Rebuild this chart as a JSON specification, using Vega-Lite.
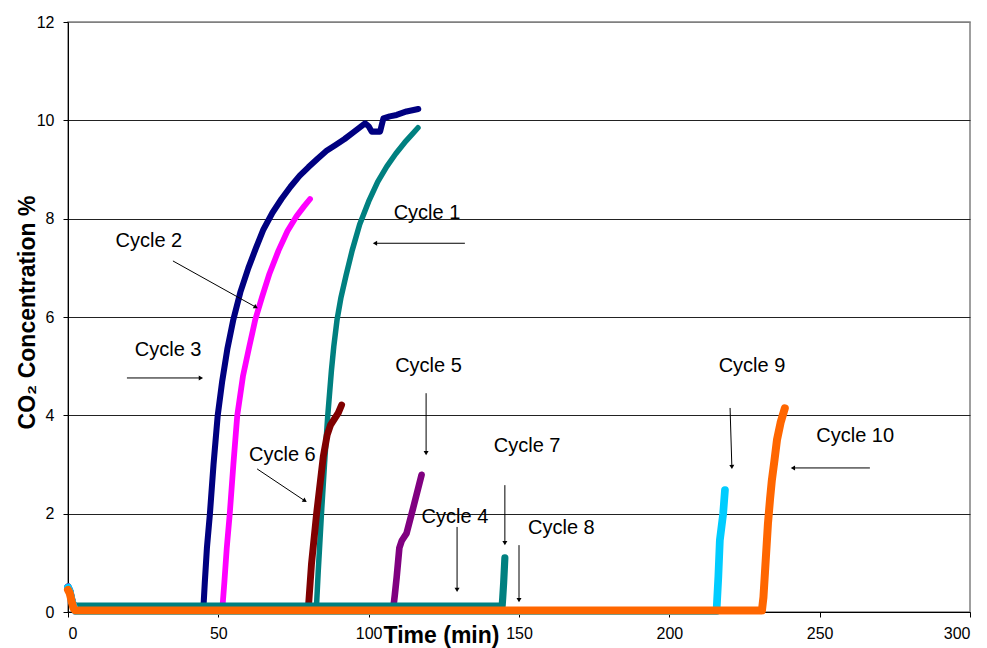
{
"$schema": "https://vega.github.io/schema/vega-lite/v6.json",
"width": 902, "height": 590,
"autosize": {"type": "none"},
"padding": {"left": 68, "top": 22, "right": 17, "bottom": 36},
"background": "white",
"config": {"font": "Liberation Sans", "view": {"stroke": "#808080", "strokeWidth": 1.5}},
"datasets": {
"series": [
{"cycle":"Cycle 1","t":0,"co2":0.5},{"cycle":"Cycle 1","t":0.6,"co2":0.42},{"cycle":"Cycle 1","t":1.2,"co2":0.25},{"cycle":"Cycle 1","t":1.8,"co2":0.12},{"cycle":"Cycle 1","t":2.5,"co2":0.06},{"cycle":"Cycle 1","t":40,"co2":0.06},{"cycle":"Cycle 1","t":82.6,"co2":0.06},{"cycle":"Cycle 1","t":83.2,"co2":0.8},{"cycle":"Cycle 1","t":84.3,"co2":2.0},{"cycle":"Cycle 1","t":85.3,"co2":3.0},{"cycle":"Cycle 1","t":86.4,"co2":4.0},{"cycle":"Cycle 1","t":87.6,"co2":4.9},{"cycle":"Cycle 1","t":88.4,"co2":5.4},{"cycle":"Cycle 1","t":89.5,"co2":5.95},{"cycle":"Cycle 1","t":90.8,"co2":6.4},{"cycle":"Cycle 1","t":92.5,"co2":6.85},{"cycle":"Cycle 1","t":94.5,"co2":7.35},{"cycle":"Cycle 1","t":97,"co2":7.88},{"cycle":"Cycle 1","t":100,"co2":8.35},{"cycle":"Cycle 1","t":103,"co2":8.75},{"cycle":"Cycle 1","t":106,"co2":9.06},{"cycle":"Cycle 1","t":109,"co2":9.32},{"cycle":"Cycle 1","t":112,"co2":9.55},{"cycle":"Cycle 1","t":114.5,"co2":9.72},{"cycle":"Cycle 1","t":116.4,"co2":9.85},
{"cycle":"Cycle 2","t":0,"co2":0.5},{"cycle":"Cycle 2","t":0.6,"co2":0.42},{"cycle":"Cycle 2","t":1.2,"co2":0.25},{"cycle":"Cycle 2","t":1.8,"co2":0.12},{"cycle":"Cycle 2","t":2.5,"co2":0.04},{"cycle":"Cycle 2","t":51.3,"co2":0.04},{"cycle":"Cycle 2","t":52,"co2":0.6},{"cycle":"Cycle 2","t":52.8,"co2":1.3},{"cycle":"Cycle 2","t":53.8,"co2":2.0},{"cycle":"Cycle 2","t":55,"co2":3.0},{"cycle":"Cycle 2","t":56.3,"co2":4.0},{"cycle":"Cycle 2","t":58.2,"co2":4.8},{"cycle":"Cycle 2","t":60.3,"co2":5.4},{"cycle":"Cycle 2","t":62.3,"co2":5.95},{"cycle":"Cycle 2","t":64.5,"co2":6.4},{"cycle":"Cycle 2","t":67,"co2":6.88},{"cycle":"Cycle 2","t":70,"co2":7.35},{"cycle":"Cycle 2","t":73,"co2":7.75},{"cycle":"Cycle 2","t":76,"co2":8.05},{"cycle":"Cycle 2","t":78.5,"co2":8.25},{"cycle":"Cycle 2","t":80.5,"co2":8.4},
{"cycle":"Cycle 3","t":0,"co2":0.5},{"cycle":"Cycle 3","t":0.6,"co2":0.42},{"cycle":"Cycle 3","t":1.2,"co2":0.25},{"cycle":"Cycle 3","t":1.8,"co2":0.12},{"cycle":"Cycle 3","t":2.5,"co2":0.04},{"cycle":"Cycle 3","t":45,"co2":0.04},{"cycle":"Cycle 3","t":45.5,"co2":0.6},{"cycle":"Cycle 3","t":46.2,"co2":1.3},{"cycle":"Cycle 3","t":47.2,"co2":2.0},{"cycle":"Cycle 3","t":48.4,"co2":3.0},{"cycle":"Cycle 3","t":49.8,"co2":4.0},{"cycle":"Cycle 3","t":51.3,"co2":4.7},{"cycle":"Cycle 3","t":53,"co2":5.35},{"cycle":"Cycle 3","t":55,"co2":5.95},{"cycle":"Cycle 3","t":57.3,"co2":6.5},{"cycle":"Cycle 3","t":60,"co2":7.0},{"cycle":"Cycle 3","t":62.5,"co2":7.4},{"cycle":"Cycle 3","t":65,"co2":7.78},{"cycle":"Cycle 3","t":68,"co2":8.12},{"cycle":"Cycle 3","t":71,"co2":8.4},{"cycle":"Cycle 3","t":74,"co2":8.65},{"cycle":"Cycle 3","t":77,"co2":8.87},{"cycle":"Cycle 3","t":80,"co2":9.05},{"cycle":"Cycle 3","t":83,"co2":9.22},{"cycle":"Cycle 3","t":86,"co2":9.38},{"cycle":"Cycle 3","t":89,"co2":9.5},{"cycle":"Cycle 3","t":92,"co2":9.62},{"cycle":"Cycle 3","t":95,"co2":9.76},{"cycle":"Cycle 3","t":98.8,"co2":9.94},{"cycle":"Cycle 3","t":100,"co2":9.88},{"cycle":"Cycle 3","t":101,"co2":9.77},{"cycle":"Cycle 3","t":103.8,"co2":9.77},{"cycle":"Cycle 3","t":104.9,"co2":10.04},{"cycle":"Cycle 3","t":107,"co2":10.08},{"cycle":"Cycle 3","t":109.3,"co2":10.11},{"cycle":"Cycle 3","t":112.6,"co2":10.18},{"cycle":"Cycle 3","t":116.5,"co2":10.23},
{"cycle":"Cycle 4","t":0,"co2":0.5},{"cycle":"Cycle 4","t":0.6,"co2":0.42},{"cycle":"Cycle 4","t":1.2,"co2":0.25},{"cycle":"Cycle 4","t":1.8,"co2":0.12},{"cycle":"Cycle 4","t":2.5,"co2":0.02},{"cycle":"Cycle 4","t":130,"co2":0.02},
{"cycle":"Cycle 5","t":0,"co2":0.52},{"cycle":"Cycle 5","t":0.6,"co2":0.44},{"cycle":"Cycle 5","t":1.2,"co2":0.26},{"cycle":"Cycle 5","t":1.8,"co2":0.12},{"cycle":"Cycle 5","t":2.5,"co2":0.04},{"cycle":"Cycle 5","t":108.1,"co2":0.04},{"cycle":"Cycle 5","t":108.7,"co2":0.35},{"cycle":"Cycle 5","t":109.3,"co2":0.7},{"cycle":"Cycle 5","t":110.2,"co2":1.3},{"cycle":"Cycle 5","t":111.0,"co2":1.45},{"cycle":"Cycle 5","t":112.6,"co2":1.6},{"cycle":"Cycle 5","t":114.9,"co2":2.14},{"cycle":"Cycle 5","t":117.6,"co2":2.79},
{"cycle":"Cycle 6","t":0,"co2":0.5},{"cycle":"Cycle 6","t":0.6,"co2":0.42},{"cycle":"Cycle 6","t":1.2,"co2":0.25},{"cycle":"Cycle 6","t":1.8,"co2":0.14},{"cycle":"Cycle 6","t":2.5,"co2":0.1},{"cycle":"Cycle 6","t":16,"co2":0.1},{"cycle":"Cycle 6","t":17,"co2":0.04},{"cycle":"Cycle 6","t":79.9,"co2":0.04},{"cycle":"Cycle 6","t":81.0,"co2":0.99},{"cycle":"Cycle 6","t":82.7,"co2":2.01},{"cycle":"Cycle 6","t":84.9,"co2":3.16},{"cycle":"Cycle 6","t":86.2,"co2":3.6},{"cycle":"Cycle 6","t":87.3,"co2":3.8},{"cycle":"Cycle 6","t":89.9,"co2":4.05},{"cycle":"Cycle 6","t":91.0,"co2":4.21},
{"cycle":"Cycle 7","t":0,"co2":0.5},{"cycle":"Cycle 7","t":0.6,"co2":0.42},{"cycle":"Cycle 7","t":1.2,"co2":0.25},{"cycle":"Cycle 7","t":1.8,"co2":0.14},{"cycle":"Cycle 7","t":2.5,"co2":0.12},{"cycle":"Cycle 7","t":144.4,"co2":0.12},{"cycle":"Cycle 7","t":144.6,"co2":0.3},{"cycle":"Cycle 7","t":144.9,"co2":0.6},{"cycle":"Cycle 7","t":145.1,"co2":0.85},{"cycle":"Cycle 7","t":145.3,"co2":1.1},
{"cycle":"Cycle 8","t":0,"co2":0.5},{"cycle":"Cycle 8","t":0.6,"co2":0.42},{"cycle":"Cycle 8","t":1.2,"co2":0.25},{"cycle":"Cycle 8","t":1.8,"co2":0.12},{"cycle":"Cycle 8","t":2.5,"co2":0.02},{"cycle":"Cycle 8","t":150,"co2":0.02},
{"cycle":"Cycle 9","t":0,"co2":0.5},{"cycle":"Cycle 9","t":0.6,"co2":0.42},{"cycle":"Cycle 9","t":1.2,"co2":0.25},{"cycle":"Cycle 9","t":1.8,"co2":0.12},{"cycle":"Cycle 9","t":2.5,"co2":0.02},{"cycle":"Cycle 9","t":215.7,"co2":0.02},{"cycle":"Cycle 9","t":216.3,"co2":0.72},{"cycle":"Cycle 9","t":216.8,"co2":1.46},{"cycle":"Cycle 9","t":217.9,"co2":2.0},{"cycle":"Cycle 9","t":218.5,"co2":2.48},
{"cycle":"Cycle 10","t":0,"co2":0.45},{"cycle":"Cycle 10","t":0.6,"co2":0.38},{"cycle":"Cycle 10","t":1.2,"co2":0.22},{"cycle":"Cycle 10","t":1.8,"co2":0.08},{"cycle":"Cycle 10","t":2.5,"co2":0.03},{"cycle":"Cycle 10","t":230.8,"co2":0.03},{"cycle":"Cycle 10","t":231.3,"co2":0.3},{"cycle":"Cycle 10","t":231.8,"co2":0.8},{"cycle":"Cycle 10","t":232.4,"co2":1.4},{"cycle":"Cycle 10","t":232.8,"co2":1.8},{"cycle":"Cycle 10","t":233.5,"co2":2.3},{"cycle":"Cycle 10","t":234.1,"co2":2.68},{"cycle":"Cycle 10","t":235,"co2":3.1},{"cycle":"Cycle 10","t":235.8,"co2":3.5},{"cycle":"Cycle 10","t":237,"co2":3.85},{"cycle":"Cycle 10","t":238.4,"co2":4.14}
],
"labels": [
{"label":"Cycle 1","t":119.4,"co2":8.11},
{"label":"Cycle 2","t":26.9,"co2":7.55},
{"label":"Cycle 3","t":33.3,"co2":5.33},
{"label":"Cycle 4","t":128.7,"co2":1.93},
{"label":"Cycle 5","t":119.9,"co2":5.0},
{"label":"Cycle 6","t":71.3,"co2":3.19},
{"label":"Cycle 7","t":152.7,"co2":3.38},
{"label":"Cycle 8","t":164.1,"co2":1.71},
{"label":"Cycle 9","t":227.5,"co2":5.0},
{"label":"Cycle 10","t":261.8,"co2":3.58}
],
"arrows": [
{"label":"Cycle 1","t1":132.0,"y1":7.5,"t2":102.1,"y2":7.5,"dir":180},
{"label":"Cycle 2","t1":34.9,"y1":7.14,"t2":62.5,"y2":6.2,"dir":29},
{"label":"Cycle 3","t1":19.6,"y1":4.76,"t2":44.2,"y2":4.76,"dir":0},
{"label":"Cycle 4","t1":129.4,"y1":1.73,"t2":129.4,"y2":0.45,"dir":90},
{"label":"Cycle 5","t1":119.1,"y1":4.45,"t2":119.1,"y2":3.23,"dir":90},
{"label":"Cycle 6","t1":62.9,"y1":2.91,"t2":78.8,"y2":2.26,"dir":34},
{"label":"Cycle 7","t1":145.3,"y1":2.58,"t2":145.3,"y2":1.4,"dir":90},
{"label":"Cycle 8","t1":150.0,"y1":1.36,"t2":150.0,"y2":0.24,"dir":90},
{"label":"Cycle 9","t1":220.2,"y1":4.15,"t2":220.8,"y2":2.95,"dir":88},
{"label":"Cycle 10","t1":266.7,"y1":2.93,"t2":241.1,"y2":2.93,"dir":180}
]
},
"layer": [
{
"data": {"name": "series"},
"mark": {"type": "line", "strokeCap": "round", "strokeJoin": "round"},
"encoding": {
"x": {"field": "t", "type": "quantitative", "scale": {"domain": [0, 300], "nice": false},
 "axis": {"values": [0,50,100,150,200,250,300], "grid": false, "domainColor": "#000", "tickColor": "#000", "tickSize": 5,
  "labelFontSize": 16, "labelColor": "#000", "labelPadding": 8, "labelFont": "Liberation Sans",
  "title": "Time (min)", "titleFontSize": 23, "titleFontWeight": "bold", "titleColor": "#000", "titleFont": "Liberation Sans",
  "titleX": 373, "titleY": 30, "titleBaseline": "alphabetic", "titleAlign": "center"}},
"y": {"field": "co2", "type": "quantitative", "scale": {"domain": [0, 12], "nice": false},
 "axis": {"values": [0,2,4,6,8,10,12], "grid": true,
  "gridColor": {"condition": {"test": "datum.value === 12", "value": "#808080"}, "value": "#222222"}, "gridWidth": 1,
  "domainColor": "#000", "tickColor": "#000", "tickSize": 5,
  "labelFontSize": 16, "labelColor": "#000", "labelPadding": 9, "labelFont": "Liberation Sans",
  "title": "CO₂ Concentration %", "titleFontSize": 23, "titleFontWeight": "bold", "titleColor": "#000", "titleFont": "Liberation Sans",
  "titleX": -41, "titleY": 290, "titleBaseline": "middle", "titleAlign": "center", "titleAngle": -90}},
"color": {"field": "cycle", "type": "nominal", "legend": null,
 "scale": {"domain": ["Cycle 1","Cycle 2","Cycle 3","Cycle 4","Cycle 5","Cycle 6","Cycle 7","Cycle 8","Cycle 9","Cycle 10"],
  "range": ["#008080","#FF00FF","#000080","#9999FF","#800080","#800000","#008080","#3366FF","#00CCFF","#FF6600"]}},
"strokeWidth": {"field": "cycle", "type": "nominal", "legend": null,
 "scale": {"domain": ["Cycle 1","Cycle 2","Cycle 3","Cycle 4","Cycle 5","Cycle 6","Cycle 7","Cycle 8","Cycle 9","Cycle 10"],
  "range": [5.5,8,8,6,9,8,3,6,8,8]}}
}
},
{
"data": {"name": "arrows"},
"mark": {"type": "rule", "color": "#000", "strokeWidth": 1},
"encoding": {
"x": {"field": "t1", "type": "quantitative"},
"y": {"field": "y1", "type": "quantitative"},
"x2": {"field": "t2"},
"y2": {"field": "y2"}
}
},
{
"data": {"name": "arrows"},
"mark": {"type": "point", "shape": "triangle-right", "filled": true, "color": "#000", "size": 25, "opacity": 1},
"encoding": {
"x": {"field": "t2", "type": "quantitative"},
"y": {"field": "y2", "type": "quantitative"},
"angle": {"field": "dir", "type": "quantitative", "scale": null}
}
},
{
"data": {"name": "labels"},
"mark": {"type": "text", "fontSize": 20, "font": "Liberation Sans", "color": "#000", "align": "center", "baseline": "middle"},
"encoding": {
"x": {"field": "t", "type": "quantitative"},
"y": {"field": "co2", "type": "quantitative"},
"text": {"field": "label", "type": "nominal"}
}
}
]
}
